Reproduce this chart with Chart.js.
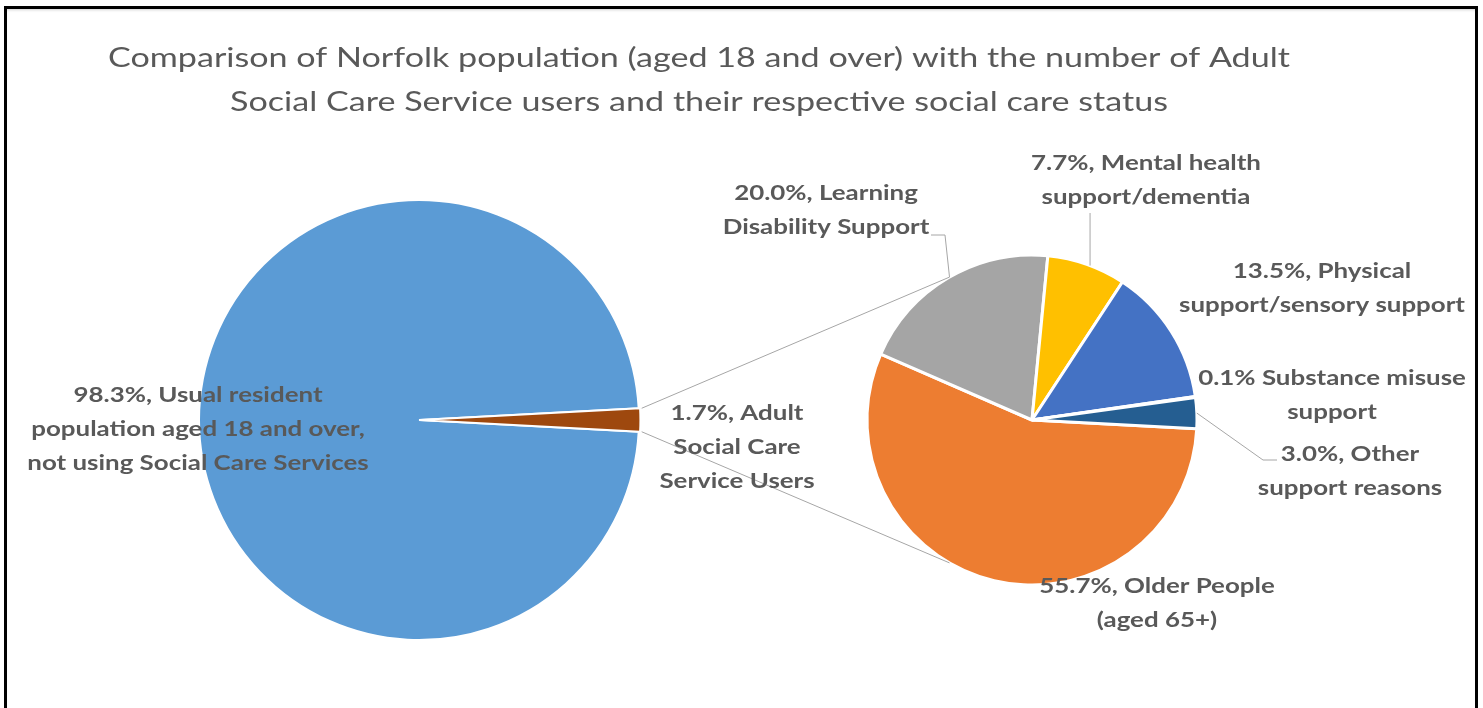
<!DOCTYPE html>
<html><head><meta charset="utf-8">
<script src="https://cdn.jsdelivr.net/npm/chart.js@4.4.1/dist/chart.umd.min.js"></script>
<style>
html,body{margin:0;padding:0;background:#fff;overflow:hidden;width:1483px;height:708px;}
#frame{position:absolute;left:4px;top:6px;width:1468px;height:740px;border:3px solid #000;box-shadow:inset 0 3px 3px -2px rgba(0,0,0,0.18);}
canvas{position:absolute;left:0;top:0;}
</style></head>
<body>
<div id="frame"></div>
<canvas id="c1" width="1483" height="708"></canvas>
<canvas id="c2" width="1483" height="708"></canvas>
<script>
// ---------- DATA ----------
const titleLines = [
  'Comparison of Norfolk population (aged 18 and over) with the number of Adult',
  'Social Care Service users and their respective social care status'
];
const mainCategories = [
  'Usual resident population aged 18 and over, not using Social Care Services',
  'Adult Social Care Service Users'
];
const mainValues = [98.3, 1.7];
const mainLabelLines = [
  ['98.3%, Usual resident', 'population aged 18 and over,', 'not using Social Care Services'],
  ['1.7%, Adult', 'Social Care', 'Service Users']
];
const subCategories = [
  'Older People (aged 65+)',
  'Learning Disability Support',
  'Mental health support/dementia',
  'Physical support/sensory support',
  'Substance misuse support',
  'Other support reasons'
];
const subValues = [55.7, 20.0, 7.7, 13.5, 0.1, 3.0];
const subLabelLines = [
  ['55.7%, Older People', '(aged 65+)'],
  ['20.0%, Learning', 'Disability Support'],
  ['7.7%, Mental health', 'support/dementia'],
  ['13.5%, Physical', 'support/sensory support'],
  ['0.1% Substance misuse', 'support'],
  ['3.0%, Other', 'support reasons']
];

// ---------- STYLE / LAYOUT ----------
const W = 1483, H = 708;
const mainColors = ['#5B9BD5', '#9E480E'];
const subColors = ['#ED7D31', '#A5A5A5', '#FFC000', '#4472C4', '#70AD47', '#255E91'];
const LEFT = {cx: 419, cy: 420, r: 220};
const RIGHT = {cx: 1032, cy: 420, r: 165, rotation: 93};
const TEXT_COLOR = '#595959';
const LINE_COLOR = '#A6A6A6';
const LABEL_FONT = 'bold 21px Lato';
const TITLE_FONT = '27px Lato';
// label anchors: [dx, dy of first baseline from pie centre]
const mainLabelPos = [[-221, -18], [318, 0]];
const subLabelPos = [[125, 173], [-206, -220], [114, -250], [290, -142], [300, -35], [318, 41]];
const LABEL_LH = 34;
const TITLE_POS = {x: 699, y: 67, lh: 44};
const CONNECTOR_SPREAD = 60; // degrees around the 9 o'clock direction of the second pie

function padFor(p) {
  const m = 20;
  return {left: p.cx - p.r - m, right: W - (p.cx + p.r + m), top: p.cy - p.r - m, bottom: H - (p.cy + p.r + m)};
}

function drawLines(ctx, lines, cx, baseY, lh, font, sx) {
  ctx.save();
  ctx.font = font; ctx.fillStyle = TEXT_COLOR; ctx.textAlign = 'center'; ctx.textBaseline = 'alphabetic';
  lines.forEach((t, i) => {
    ctx.save(); ctx.translate(cx, baseY + i * lh); ctx.scale(sx, 1); ctx.fillText(t, 0, 0); ctx.restore();
  });
  ctx.restore();
}
function polyline(ctx, pts) {
  ctx.beginPath(); ctx.moveTo(pts[0][0], pts[0][1]);
  for (let i = 1; i < pts.length; i++) ctx.lineTo(pts[i][0], pts[i][1]);
  ctx.stroke();
}

const baseOpts = {
  responsive: false, animation: false, events: [],
  plugins: {legend: {display: false}, tooltip: {enabled: false}, title: {display: false}}
};

const chart1 = new Chart(document.getElementById('c1'), {
  type: 'pie',
  data: {labels: mainCategories, datasets: [{
    data: mainValues, backgroundColor: mainColors, borderColor: '#ffffff', borderWidth: 2,
    offset: [0, 3]
  }]},
  options: Object.assign({}, baseOpts, {
    layout: {padding: padFor(LEFT)},
    radius: LEFT.r,
    rotation: 90 + mainValues[1] / 100 * 180
  })
});

const overlay = {
  id: 'overlay',
  afterDraw(chart) {
    const ctx = chart.ctx;
    const a1 = chart1.getDatasetMeta(0).data;
    const sub = chart.getDatasetMeta(0).data;
    const lc = a1[0], sc = sub[0];
    const L = {x: lc.x, y: lc.y, r: lc.outerRadius};
    const R = {x: sc.x, y: sc.y, r: sc.outerRadius};
    const onR = deg => { const a = (deg - 90) * Math.PI / 180; return [R.x + Math.cos(a) * R.r, R.y + Math.sin(a) * R.r]; };

    // connectors from the exploded slice to the second pie
    const b = a1[1];
    const off = 3, mid = (b.startAngle + b.endAngle) / 2;
    const ox = b.x + Math.cos(mid) * off, oy = b.y + Math.sin(mid) * off;
    const pTop = [ox + Math.cos(b.startAngle) * b.outerRadius, oy + Math.sin(b.startAngle) * b.outerRadius];
    const pBot = [ox + Math.cos(b.endAngle) * b.outerRadius, oy + Math.sin(b.endAngle) * b.outerRadius];
    ctx.save();
    ctx.strokeStyle = LINE_COLOR; ctx.lineWidth = 1;
    const tTop = onR(270 + CONNECTOR_SPREAD), tBot = onR(270 - CONNECTOR_SPREAD);
    polyline(ctx, [pTop, tTop]);
    polyline(ctx, [pBot, tBot]);
    // leader lines
    polyline(ctx, [tTop, [R.x - 87, R.y - 185], [R.x - 101, R.y - 185]]); // learning
    const mh = onR(20.6);
    polyline(ctx, [mh, [mh[0], R.y - 207]]); // mental health
    const s5 = sub[5];
    const oa = (s5.startAngle + s5.endAngle) / 2;
    const op = [R.x + Math.cos(oa) * R.r, R.y + Math.sin(oa) * R.r];
    polyline(ctx, [op, [R.x + 231, R.y + 40], [R.x + 245, R.y + 40]]); // other
    ctx.restore();

    // text
    ctx.save();
    ctx.font = LABEL_FONT;
    const labelSx = 286 / ctx.measureText('support/sensory support').width;
    ctx.font = TITLE_FONT;
    const titleSx = 1182 / ctx.measureText(titleLines[0]).width;
    ctx.restore();
    titleLines.forEach((t, i) => drawLines(ctx, [t], TITLE_POS.x, TITLE_POS.y + i * TITLE_POS.lh, 0, TITLE_FONT, titleSx));
    mainLabelLines.forEach((lines, i) => drawLines(ctx, lines, L.x + mainLabelPos[i][0], L.y + mainLabelPos[i][1], LABEL_LH, LABEL_FONT, labelSx));
    subLabelLines.forEach((lines, i) => drawLines(ctx, lines, R.x + subLabelPos[i][0], R.y + subLabelPos[i][1], LABEL_LH, LABEL_FONT, labelSx));
  }
};

const chart2 = new Chart(document.getElementById('c2'), {
  type: 'pie',
  data: {labels: subCategories, datasets: [{
    data: subValues, backgroundColor: subColors, borderColor: '#ffffff', borderWidth: 3
  }]},
  options: Object.assign({}, baseOpts, {
    layout: {padding: padFor(RIGHT)},
    radius: RIGHT.r,
    rotation: RIGHT.rotation
  }),
  plugins: [overlay]
});
</script>
</body></html>
